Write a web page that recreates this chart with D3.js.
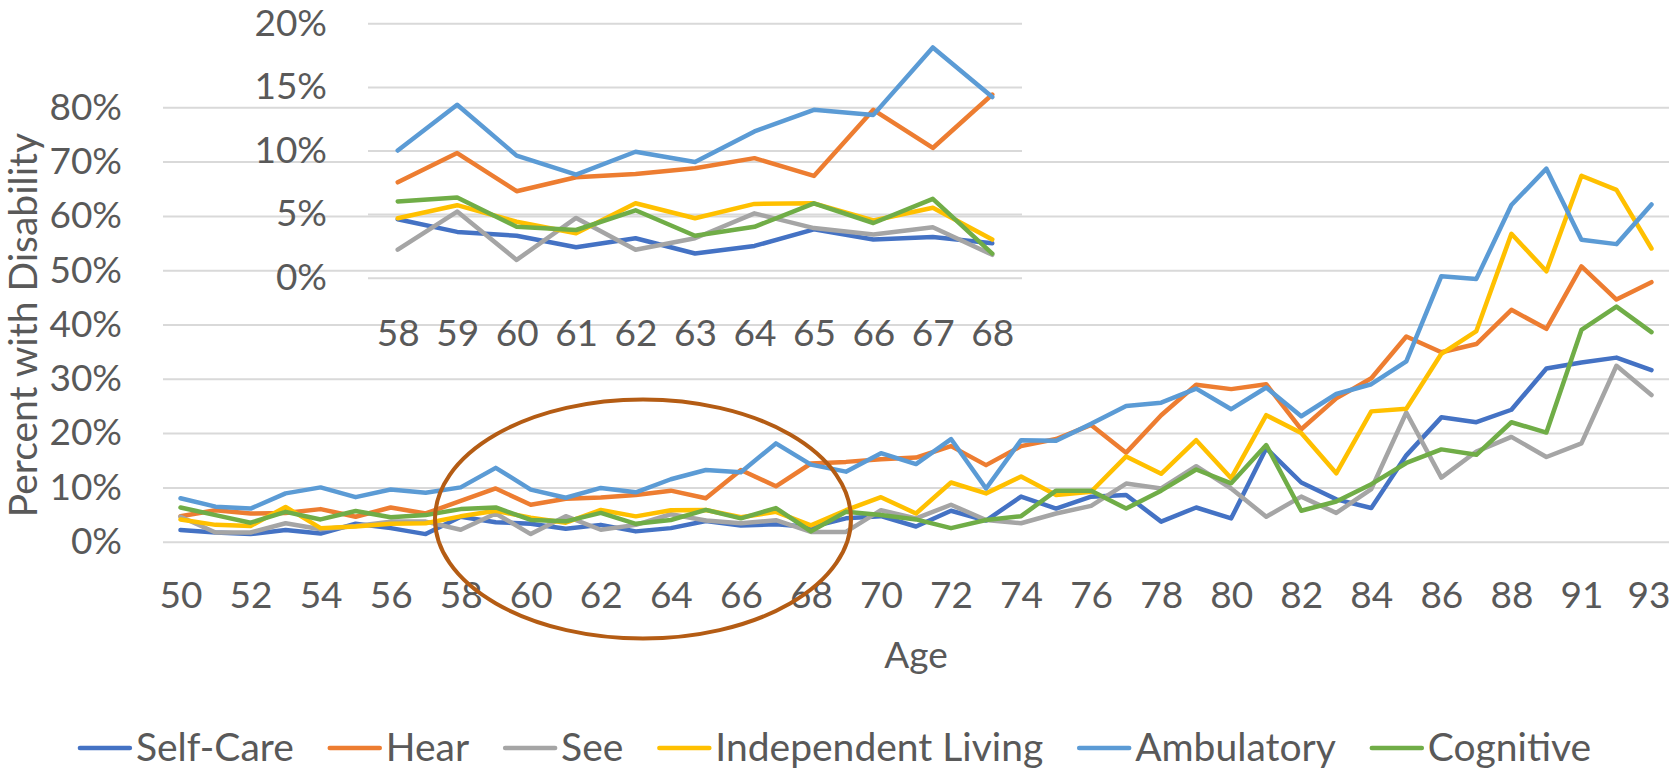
<!DOCTYPE html>
<html>
<head>
<meta charset="utf-8">
<script src="https://cdn.jsdelivr.net/npm/d3@7"></script>
<style>
  body { margin: 0; background: #fff; }
  svg text { font-family: Lato, "Noto Sans", sans-serif; fill: #595959; }
</style>
</head>
<body>
<svg id="chart" width="1671" height="771"></svg>
<script>
// ages on the x axis (90 is not in the data)
const ages = [50, 51, 52, 53, 54, 55, 56, 57, 58, 59, 60, 61, 62, 63, 64, 65, 66, 67, 68, 69,
    70, 71, 72, 73, 74, 75, 76, 77, 78, 79, 80, 81, 82, 83, 84, 85, 86, 87, 88, 89, 91, 92, 93];

// percent with disability, one value per age
const selfCare = [2.15, 1.7, 1.4, 2.15, 1.5, 3.3, 2.5, 1.4, 4.6, 3.6, 3.3, 2.4, 3.1, 1.9, 2.5, 3.8, 3.0, 3.2, 2.7, 4.3,
    4.7, 2.8, 5.7, 3.9, 8.3, 6.1, 8.3, 8.6, 3.7, 6.3, 4.3, 17.2, 10.9, 7.8, 6.2, 15.9, 22.9, 22.0, 24.3, 31.9, 33.0, 33.9, 31.6];
const hear = [4.7, 5.8, 5.2, 5.3, 6.0, 4.6, 6.3, 5.2, 7.5, 9.8, 6.8, 7.9, 8.15, 8.6, 9.4, 8.0, 13.2, 10.2, 14.4, 14.7,
    15.2, 15.5, 17.6, 14.1, 17.6, 18.9, 21.5, 16.4, 23.3, 28.9, 28.1, 29.0, 20.7, 26.4, 30.1, 37.8, 34.9, 36.4, 42.7, 39.2, 50.7, 44.6, 47.8];
const see = [4.6, 1.7, 1.7, 3.4, 2.3, 2.9, 3.7, 3.7, 2.2, 5.2, 1.4, 4.7, 2.2, 3.1, 5.06, 3.9, 3.4, 3.96, 1.8, 1.8,
    5.8, 4.3, 6.8, 4.0, 3.4, 5.2, 6.6, 10.7, 9.8, 13.9, 9.8, 4.6, 8.3, 5.3, 9.7, 23.8, 11.8, 16.6, 19.3, 15.6, 18.1, 32.4, 27.0];
const independentLiving = [4.1, 3.1, 2.9, 6.4, 2.5, 2.8, 3.3, 3.4, 4.67, 5.7, 4.4, 3.5, 5.85, 4.67, 5.8, 5.85, 4.5, 5.5, 3.0, 5.8,
    8.2, 5.2, 10.9, 8.9, 12.0, 8.6, 9.2, 15.7, 12.5, 18.7, 11.7, 23.3, 20.0, 12.6, 24.0, 24.5, 34.6, 38.8, 56.7, 49.8, 67.4, 64.8, 54.0];
const ambulatory = [8.0, 6.45, 6.1, 8.9, 10.0, 8.2, 9.6, 9.0, 10.0, 13.6, 9.6, 8.1, 9.9, 9.1, 11.5, 13.2, 12.8, 18.1, 14.2, 12.9,
    16.3, 14.3, 18.9, 9.8, 18.7, 18.6, 21.7, 25.0, 25.6, 28.2, 24.4, 28.4, 23.1, 27.2, 29.0, 33.2, 48.9, 48.4, 62.0, 68.7, 55.6, 54.8, 62.1];
const cognitive = [6.3, 4.9, 3.5, 5.5, 4.1, 5.65, 4.5, 4.9, 6.0, 6.3, 4.0, 3.75, 5.3, 3.3, 4.0, 5.85, 4.3, 6.2, 1.9, 5.5,
    4.9, 4.1, 2.5, 4.0, 4.7, 9.4, 9.4, 6.1, 9.4, 13.3, 10.75, 17.8, 5.7, 7.4, 10.6, 14.5, 17.0, 16.0, 22.0, 20.1, 39.0, 43.3, 38.6];

const seriesNames = ["Self-Care", "Hear", "See", "Independent Living", "Ambulatory", "Cognitive"];
const seriesValues = [selfCare, hear, see, independentLiving, ambulatory, cognitive];
const seriesColors = ["#4472C4", "#ED7D31", "#A5A5A5", "#FFC000", "#5B9BD5", "#70AD47"];

const mainYTicks = [0, 10, 20, 30, 40, 50, 60, 70, 80];
const mainXTicks = ages.filter((a, i) => i % 2 === 0);
const insetAges = [58, 59, 60, 61, 62, 63, 64, 65, 66, 67, 68];
const insetYTicks = [0, 5, 10, 15, 20];

const FONT = 37;
const svg = d3.select("#chart");

const series = seriesNames.map((name, k) => ({
    name,
    color: seriesColors[k],
    values: ages.map((a, i) => ({ age: a, v: seriesValues[k][i] }))
}));

// draw one line panel (main chart or the zoomed inset)
function drawPanel(g, { domainAges, left, right, top, bottom, yMax, yTicks, xTicks, yPad, xPad }) {
    const x = d3.scalePoint().domain(domainAges).range([left, right]).padding(0.5);
    const y = d3.scaleLinear().domain([0, yMax]).range([bottom, top]);

    const yAxis = g.append("g")
        .attr("transform", `translate(${left},0)`)
        .call(d3.axisLeft(y).tickValues(yTicks).tickSize(-(right - left)).tickPadding(yPad).tickFormat(d => d + "%"));
    yAxis.select(".domain").remove();
    yAxis.selectAll(".tick line").attr("stroke", "#D9D9D9").attr("stroke-width", 2);
    yAxis.attr("font-size", FONT).attr("font-family", null);

    const xAxis = g.append("g")
        .attr("transform", `translate(0,${bottom})`)
        .call(d3.axisBottom(x).tickValues(xTicks).tickSize(0).tickPadding(xPad));
    xAxis.select(".domain").remove();
    xAxis.attr("font-size", FONT).attr("font-family", null);
    // keep the label at the right edge inside the page
    xAxis.selectAll(".tick text").filter(d => x(d) + 22 > 1671).attr("dx", -3);

    const line = d3.line().x(d => x(d.age)).y(d => y(d.v));
    g.append("g").selectAll("path")
        .data(series)
        .join("path")
        .attr("fill", "none")
        .attr("stroke", d => d.color)
        .attr("stroke-width", 4.5)
        .attr("stroke-linejoin", "round")
        .attr("stroke-linecap", "round")
        .attr("d", d => line(d.values.filter(p => domainAges.includes(p.age))));
}

drawPanel(svg.append("g").attr("class", "main"), {
    domainAges: ages, left: 163, right: 1669, top: 107.3, bottom: 541.7,
    yMax: 80, yTicks: mainYTicks, xTicks: mainXTicks, yPad: 41, xPad: 40
});

drawPanel(svg.append("g").attr("class", "inset"), {
    domainAges: insetAges, left: 368, right: 1022, top: 23.3, bottom: 277.7,
    yMax: 20, yTicks: insetYTicks, xTicks: insetAges, yPad: 41, xPad: 42
});

// circled region 58-68
svg.append("ellipse")
    .attr("cx", 643).attr("cy", 519).attr("rx", 208).attr("ry", 119.5)
    .attr("fill", "none").attr("stroke", "#B45C14").attr("stroke-width", 4);

// axis titles
svg.append("text")
    .attr("x", 916).attr("y", 668)
    .attr("text-anchor", "middle").attr("font-size", FONT)
    .text("Age");
svg.append("text")
    .attr("transform", "translate(22,325) rotate(-90)")
    .attr("text-anchor", "middle").attr("dominant-baseline", "central").attr("font-size", 39)
    .text("Percent with Disability");

// legend, centred under the chart
const legend = svg.append("g").attr("class", "legend");
const items = legend.selectAll("g").data(series).join("g");
items.append("line")
    .attr("x1", 0).attr("x2", 50).attr("y1", 748).attr("y2", 748)
    .attr("stroke", d => d.color).attr("stroke-width", 4.5).attr("stroke-linecap", "round");
items.append("text")
    .attr("x", 56).attr("y", 761).attr("font-size", 39)
    .text(d => d.name);
let cursor = 0;
items.each(function () {
    const w = 56 + d3.select(this).select("text").node().getComputedTextLength();
    d3.select(this).attr("transform", `translate(${cursor},0)`);
    cursor += w + 36;
});
legend.attr("transform", `translate(${835.5 - (cursor - 36) / 2},0)`);
</script>
</body>
</html>
